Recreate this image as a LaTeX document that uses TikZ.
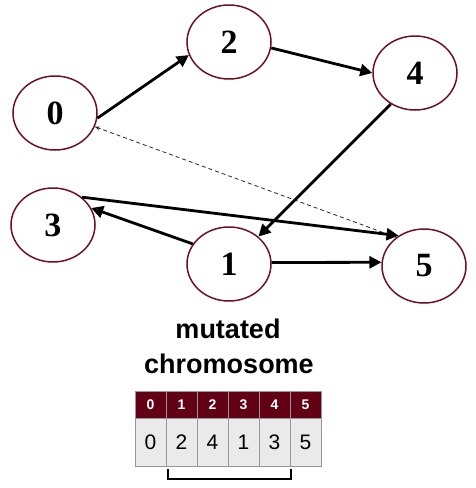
\documentclass[tikz,border=0pt]{standalone}
\usepackage{fontspec}
\setmainfont{Liberation Serif}
\newfontfamily\hsans{Liberation Sans}
\usetikzlibrary{shapes.geometric,arrows.meta}
\definecolor{ringred}{RGB}{110,16,32}
\definecolor{headred}{RGB}{98,0,22}
\definecolor{cellgray}{RGB}{234,234,234}
\definecolor{gridgray}{RGB}{150,150,150}
\tikzset{
  vertex/.style={ellipse, draw=ringred, line width=1.5pt, minimum width=84pt, minimum height=74pt, inner sep=0pt,
    font=\fontsize{34}{34}\selectfont\bfseries},
  edge/.style={line width=2.8pt, -{Triangle[length=12pt,width=12pt]}},
  dashedge/.style={line width=0.8pt, dashed, dash pattern=on 4pt off 3pt, draw=black!85, -{Stealth[length=5pt,width=4pt]}},
  headcell/.style={rectangle, draw=gridgray, line width=1pt, fill=headred, text=white, minimum width=31pt, minimum height=27pt, inner sep=0pt,
    font=\hsans\fontsize{14}{14}\selectfont\bfseries},
  bodycell/.style={rectangle, draw=gridgray, line width=1pt, fill=cellgray, text=black, minimum width=31pt, minimum height=48pt, inner sep=0pt,
    font=\hsans\fontsize{21}{21}\selectfont},
  titletext/.style={font=\hsans\fontsize{27}{27}\selectfont\bfseries, inner sep=0pt, anchor=base},
  bracket/.style={line width=2pt}
}
\begin{document}
\begin{tikzpicture}[x=1pt,y=-1pt]
\useasboundingbox (0,0) rectangle (476,488);
% vertices
\node[vertex] (n0) at (55,113) {0};
\node[vertex] (n2) at (229,42) {2};
\node[vertex] (n4) at (415,73) {4};
\node[vertex] (n3) at (53,225) {3};
\node[vertex] (n1) at (229,264) {1};
\node[vertex] (n5) at (424,266) {5};
% edges
\draw[dashedge] (n5.134) -- (n0.-19);
\draw[edge] (n0.-7) -- (n2.198);
\draw[edge] (n2.-8) -- (n4.180);
\draw[edge] (n4.232) -- (n1.43);
\draw[edge] (n1.151) -- (n3.24);
\draw[edge] (n3.44) -- (n5.130);
\draw[edge] (n1.2) -- (n5.175);
% title
\node[titletext] (t1) at (228,338) {mutated};
\node[titletext] (t2) at (229,373) {chromosome};
% table
\foreach \i/\v in {0/0,1/2,2/4,3/1,4/3,5/5}{
  \node[headcell] (h\i) at (150.5+31*\i,404.5) {\i};
  \node[bodycell] (c\i) at (150.5+31*\i,442) {\v};
}
% bracket
\coordinate (bl) at (167.7,469);
\coordinate (br) at (291.3,469);
\draw[bracket] (bl) -- ++(0,10) -| (br);
\end{tikzpicture}
\end{document}
